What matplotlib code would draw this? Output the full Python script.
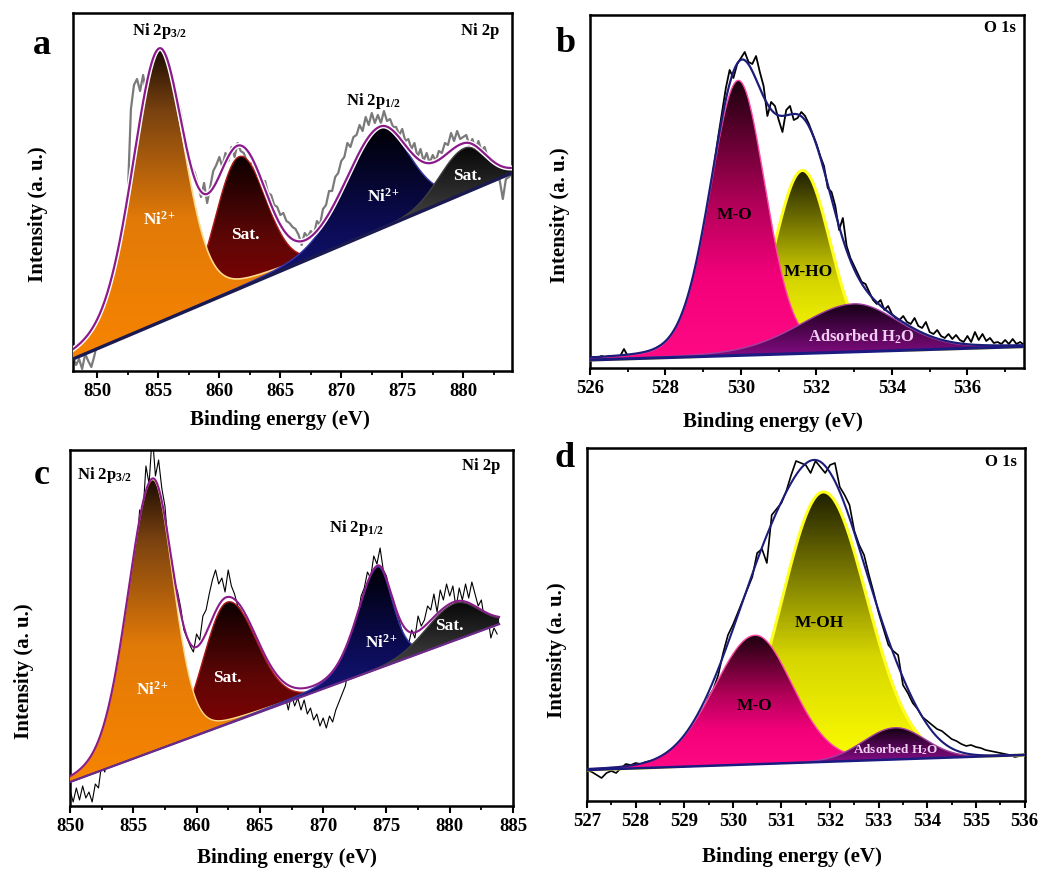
import numpy as np
import matplotlib.pyplot as plt
import matplotlib.patheffects as pe
from matplotlib.colors import LinearSegmentedColormap
from matplotlib.ticker import MultipleLocator

plt.rcParams['font.family'] = ['Liberation Serif', 'DejaVu Serif']
plt.rcParams['font.weight'] = 'bold'
plt.rcParams['mathtext.fontset'] = 'custom'
plt.rcParams['mathtext.rm'] = 'Liberation Serif:bold'
plt.rcParams['mathtext.default'] = 'regular'

W, H = 1041, 871

# ---------------- data (x in eV, y = arbitrary intensity units) ----------------
# (a) Ni 2p, raw spectrum every 0.25 eV from 848.0 eV
a_start, a_step = 848.0, 0.25
a_raw = [14, 6, 12, 2, 17, 10, 4, 15,
         30, 42, 26, 36, 46, 50, 64, 72,
         98, 134, 178, 262, 286, 292, 280, 296,
         278, 294, 302, 314, 320, 310, 302, 292,
         290, 280, 270, 264, 248, 226, 214, 204,
         198, 186, 174, 188, 168, 184, 200, 206,
         214, 204, 218, 210, 224, 214, 228, 220,
         218, 210, 206, 210, 196, 198, 188, 190,
         178, 176, 166, 164, 156, 158, 150, 148,
         144, 142, 136, 126, 138, 134, 140, 136,
         150, 146, 162, 166, 180, 180, 194, 198,
         210, 214, 228, 224, 234, 236, 246, 240,
         254, 246, 258, 248, 256, 248, 260, 250,
         252, 244, 244, 236, 242, 230, 232, 222,
         228, 214, 222, 210, 218, 208, 216, 210,
         220, 218, 228, 226, 238, 230, 240, 232,
         234, 236, 226, 232, 222, 230, 220, 224,
         214, 208, 202, 198, 190, 172, 192, 194,
         198]
a_bg_x = [848.0, 884.0]
a_bg_y = [12, 198]
# fitted components, listed in drawing order: Sat., Ni2+ (2p3/2), Ni2+ (2p1/2), Sat.
a_center = [861.6, 855.05, 873.15, 880.1]
a_height = [132, 273, 101, 45]
a_wl = [2.3, 2.6, 3.3, 2.4]
a_wr = [2.55, 2.45, 2.9, 2.0]
a_eta = [0.0, 0.25, 0.2, 0.0]

# (b) O 1s, raw every 0.1 eV from 526.0 eV
b_start, b_step = 526.0, 0.1
b_raw = [10, 11, 10, 12, 11, 12, 11, 12, 12, 19,
         12, 13, 14, 14, 15, 16, 17, 18, 21, 23,
         25, 28, 32, 38, 46, 55, 66, 78, 94, 112,
         134, 156, 180, 206, 232, 256, 280, 298, 290, 304,
         310, 316, 306, 304, 312, 296, 282, 252, 266, 262,
         248, 236, 258, 262, 248, 250, 256, 252, 244, 234,
         224, 212, 202, 180, 176, 162, 138, 150, 122, 110,
         102, 94, 86, 84, 76, 68, 64, 68, 58, 62,
         54, 50, 48, 52, 46, 44, 50, 42, 40, 46,
         36, 34, 38, 32, 30, 34, 29, 33, 28, 26,
         32, 26, 36, 28, 34, 27, 30, 25, 26, 24,
         28, 24, 29, 24, 26, 23]
b_bg_x = [526.0, 537.5]
b_bg_y = [8, 21.4]
# drawing order: M-HO, M-O, adsorbed H2O
b_center = [531.63, 529.93, 533.0]
b_height = [183, 275, 48]
b_wl = [0.86, 0.88, 1.7]
b_wr = [0.86, 0.85, 1.4]
b_eta = [0.0, 0.15, 0.2]

# (c) Ni 2p, raw every 0.25 eV from 850.0 eV
c_start, c_step = 850.0, 0.25
c_raw = [16, 4, 18, 6, 20, 8, 14, 4,
         22, 18, 42, 34, 60, 80, 72, 100,
         118, 140, 160, 190, 204, 250, 296, 290,
         340, 322, 372, 330, 346, 318, 300, 262,
         244, 224, 214, 198, 176, 168, 160, 154,
         172, 166, 190, 196, 212, 226, 236, 222,
         228, 214, 236, 220, 212, 200, 196, 178,
         176, 162, 164, 146, 142, 130, 126, 114,
         118, 108, 122, 102, 110, 96, 112, 100,
         108, 96, 106, 92, 98, 86, 92, 80,
         88, 78, 90, 84, 96, 104, 112, 120,
         136, 162, 178, 190, 210, 218, 234, 228,
         250, 242, 258, 236, 230, 214, 208, 196,
         186, 174, 168, 162, 176, 168, 190, 180,
         186, 200, 196, 212, 194, 216, 206, 222,
         210, 220, 198, 218, 206, 222, 208, 224,
         212, 200, 206, 186, 190, 168, 178, 172]
c_bg_x = [850.0, 885.0]
c_bg_y = [24, 187]
c_center = [862.4, 856.5, 874.3, 880.4]
c_height = [122, 272, 102, 37]
c_wl = [2.2, 2.3, 1.9, 2.6]
c_wr = [2.7, 1.95, 1.4, 2.2]
c_eta = [0.0, 0.15, 0.3, 0.0]

# (d) O 1s, raw every 0.1 eV from 527.0 eV
d_start, d_step = 527.0, 0.1
d_raw = [31, 29, 26, 23, 28, 30, 28, 33, 37, 36,
         38, 37, 39, 40, 41, 42, 47, 45, 52, 56,
         62, 66, 70, 86, 92, 104, 112, 126, 148, 166,
         176, 188, 200, 212, 224, 248, 252, 238, 286, 292,
         298, 310, 326, 340, 338, 336, 328, 340, 334, 328,
         336, 338, 314, 306, 296, 270, 256, 246, 226, 208,
         188, 172, 156, 150, 146, 116, 108, 98, 92, 84,
         80, 76, 72, 70, 66, 62, 60, 57, 55, 56,
         54, 53, 51, 50, 49, 48, 47, 46, 44, 45,
         46]
d_bg_x = [527.0, 536.0]
d_bg_y = [31, 46]
# drawing order: M-OH, M-O, adsorbed H2O
d_center = [531.86, 530.46, 533.34]
d_height = [270, 129, 31.7]
d_wl = [1.0, 1.0, 0.77]
d_wr = [1.05, 0.9, 0.72]
d_eta = [0.0, 0.1, 0.0]


def pv(x, c, h, wl, wr, eta):
    w = np.where(x < c, wl, wr)
    u = ((x - c) / w) ** 2
    return h * ((1 - eta) * np.exp(-np.log(2) * u) + eta / (1 + u))


def gradient_fill(ax, x, base, top, stops, z):
    cmap = LinearSegmentedColormap.from_list('g', stops)
    y0 = base[(top - base) > 0.5].min()
    poly = ax.fill_between(x, base, top, facecolor='none', edgecolor='none', zorder=z)
    img = ax.imshow(np.linspace(0, 1, 256)[:, None], cmap=cmap, origin='lower', aspect='auto',
                    extent=(x[0], x[-1], y0, top.max()), zorder=z, interpolation='bilinear')
    img.set_clip_path(poly.get_paths()[0], ax.transData)


def draw(ax, x, start, step, raw, raw_kw, bg_x, bg_y, centers, heights, wl, wr, eta,
         fills, edges, edge_w, env_kw, bg_kw):
    raw = np.array(raw, dtype=float)
    rx = start + step * np.arange(len(raw))
    ax.plot(rx, raw, zorder=2, **raw_kw)
    bg = np.interp(x, bg_x, bg_y)
    comps = [pv(x, c, h, l, r, e) for c, h, l, r, e in zip(centers, heights, wl, wr, eta)]
    for i, comp in enumerate(comps):
        gradient_fill(ax, x, bg, bg + comp, fills[i], 3 + i)
        ax.plot(x, bg + comp, color=edges[i], lw=edge_w[i], zorder=3 + i)
    ax.plot(x, bg + np.sum(comps, axis=0), zorder=8, **env_kw)
    ax.plot(x, bg, zorder=9, **bg_kw)


def style(ax, xlim, ymax, major, minor):
    ax.set_xlim(*xlim)
    ax.set_ylim(0, ymax)
    ax.set_yticks([])
    ax.xaxis.set_major_locator(MultipleLocator(major))
    ax.xaxis.set_minor_locator(MultipleLocator(minor))
    ax.tick_params(axis='x', which='major', direction='out', length=5, width=1.5,
                   labelsize=13.5, pad=3.5)
    ax.tick_params(axis='x', which='minor', direction='out', length=3, width=1.3)
    for s in ax.spines.values():
        s.set_linewidth(1.8)


def axes_px(fig, left, top, right, bottom):
    return fig.add_axes([left / W, 1 - bottom / H, (right - left) / W, (bottom - top) / H])


fig = plt.figure(figsize=(W / 100, H / 100), dpi=100)

ni_fills = [[(0, '#8E0000'), (0.5, '#5E0606'), (1, '#0C0000')],
            [(0, '#F78400'), (0.45, '#E27A08'), (0.8, '#7A4210'), (1, '#1C0C02')],
            [(0, '#1C1C92'), (0.5, '#0C0C58'), (1, '#000006')],
            [(0, '#454545'), (1, '#080808')]]
ni_edges = ['#B01818', '#FFD98A', '#3838A8', '#404040']
o_fills = [[(0, '#FFFF00'), (0.4, '#D6D600'), (1, '#1E1E00')],
           [(0, '#FF0A84'), (0.3, '#F2007A'), (0.55, '#B4005A'), (1, '#1C000E')],
           [(0, '#8C0C8C'), (1, '#140014')]]
o_edges = ['#FFFF20', '#FF4AA8', '#A040A0']
halo = [pe.Stroke(linewidth=3.6, foreground='white'), pe.Normal()]
ni2 = r'Ni$^{2\!+}$'
inside = dict(fontsize=12.5, ha='center', va='center', zorder=10)
tk = dict(fontsize=12, ha='center', va='center')

# ---- a ----
ax = axes_px(fig, 73, 13, 512, 371)
draw(ax, np.linspace(848, 884, 721), a_start, a_step, a_raw, dict(color='#7a7a7a', lw=1.6),
     a_bg_x, a_bg_y, a_center, a_height, a_wl, a_wr, a_eta, ni_fills, ni_edges, [1.0, 1.2, 1.0, 1.0],
     dict(color='#8B1A8B', lw=1.6, path_effects=halo), dict(color='#1A1A50', lw=2.4))
style(ax, (848, 884), 358, 5, 2.5)
ax.text(855.1, 340, 'Ni 2p$_{3/2}$', **tk)
ax.text(881.4, 340, 'Ni 2p', **tk)
ax.text(872.6, 270, 'Ni 2p$_{1/2}$', **tk)
ax.text(855.05, 151, ni2, color='white', **inside)
ax.text(862.1, 136, 'Sat.', color='white', **inside)
ax.text(873.4, 174, ni2, color='white', **inside)
ax.text(880.3, 195, 'Sat.', color='white', **inside)

# ---- b ----
ax = axes_px(fig, 590, 15, 1024, 368)
draw(ax, np.linspace(526, 537.5, 600), b_start, b_step, b_raw, dict(color='black', lw=1.3),
     b_bg_x, b_bg_y, b_center, b_height, b_wl, b_wr, b_eta, o_fills, o_edges, [2.2, 1.0, 1.0],
     dict(color='#1C1C7A', lw=1.6), dict(color='#1A1A80', lw=2.2))
style(ax, (526, 537.5), 353, 2, 1)
ax.text(536.87, 340, 'O 1s', **tk)
ax.text(529.84, 153, 'M-O', color='black', **inside)
ax.text(531.79, 96, 'M-HO', color='black', **inside)
ax.text(533.2, 31, 'Adsorbed H$_2$O', color='#F2CCF2', fontsize=12, ha='center', va='center', zorder=10)

# ---- c ----
ax = axes_px(fig, 70, 450, 513, 806)
draw(ax, np.linspace(850, 883.9, 700), c_start, c_step, c_raw, dict(color='black', lw=0.8),
     c_bg_x, c_bg_y, c_center, c_height, c_wl, c_wr, c_eta, ni_fills, ni_edges, [1.0, 1.0, 1.0, 1.0],
     dict(color='#8B1A8B', lw=1.5), dict(color='#6A2A8A', lw=1.6))
style(ax, (850, 885), 356, 5, 2.5)
ax.text(850.55, 331, 'Ni 2p$_{3/2}$', fontsize=12, ha='left', va='center')
ax.text(882.5, 340, 'Ni 2p', **tk)
ax.text(872.6, 278, 'Ni 2p$_{1/2}$', **tk)
ax.text(856.5, 116, ni2, color='white', **inside)
ax.text(862.4, 128, 'Sat.', color='white', **inside)
ax.text(874.6, 163, ni2, color='white', **inside)
ax.text(880.0, 180, 'Sat.', color='white', **inside)

# ---- d ----
ax = axes_px(fig, 587, 448, 1024.5, 801)
draw(ax, np.linspace(527, 536, 600), d_start, d_step, d_raw, dict(color='black', lw=1.2),
     d_bg_x, d_bg_y, d_center, d_height, d_wl, d_wr, d_eta, o_fills, o_edges, [2.2, 1.0, 1.0],
     dict(color='#1C1C7A', lw=1.5), dict(color='#1A1A80', lw=1.8))
style(ax, (527, 536), 353, 1, 0.5)
ax.text(535.52, 339, 'O 1s', **tk)
ax.text(531.77, 178, 'M-OH', color='black', **inside)
ax.text(530.44, 95, 'M-O', color='black', **inside)
ax.text(533.36, 51, 'Adsorbed H$_2$O', color='#F2D2F2', fontsize=9.5, ha='center', va='center', zorder=10)

# ---- shared labels ----
for lx, ly, s in [(42, 45, 'a'), (566, 43, 'b'), (42, 475, 'c'), (565, 458, 'd')]:
    fig.text(lx / W, 1 - ly / H, s, fontsize=26, ha='center', va='center')
for lx, ly in [(38, 214), (560, 215), (24, 671), (557, 650)]:
    fig.text(lx / W, 1 - ly / H, 'Intensity (a. u.)', fontsize=15, rotation=90, ha='center', va='center')
for lx, ly in [(280, 420), (773, 422), (287, 858), (792, 857)]:
    fig.text(lx / W, 1 - ly / H, 'Binding energy (eV)', fontsize=15, ha='center', va='center')

fig.savefig('out.png', dpi=100, facecolor='white')
